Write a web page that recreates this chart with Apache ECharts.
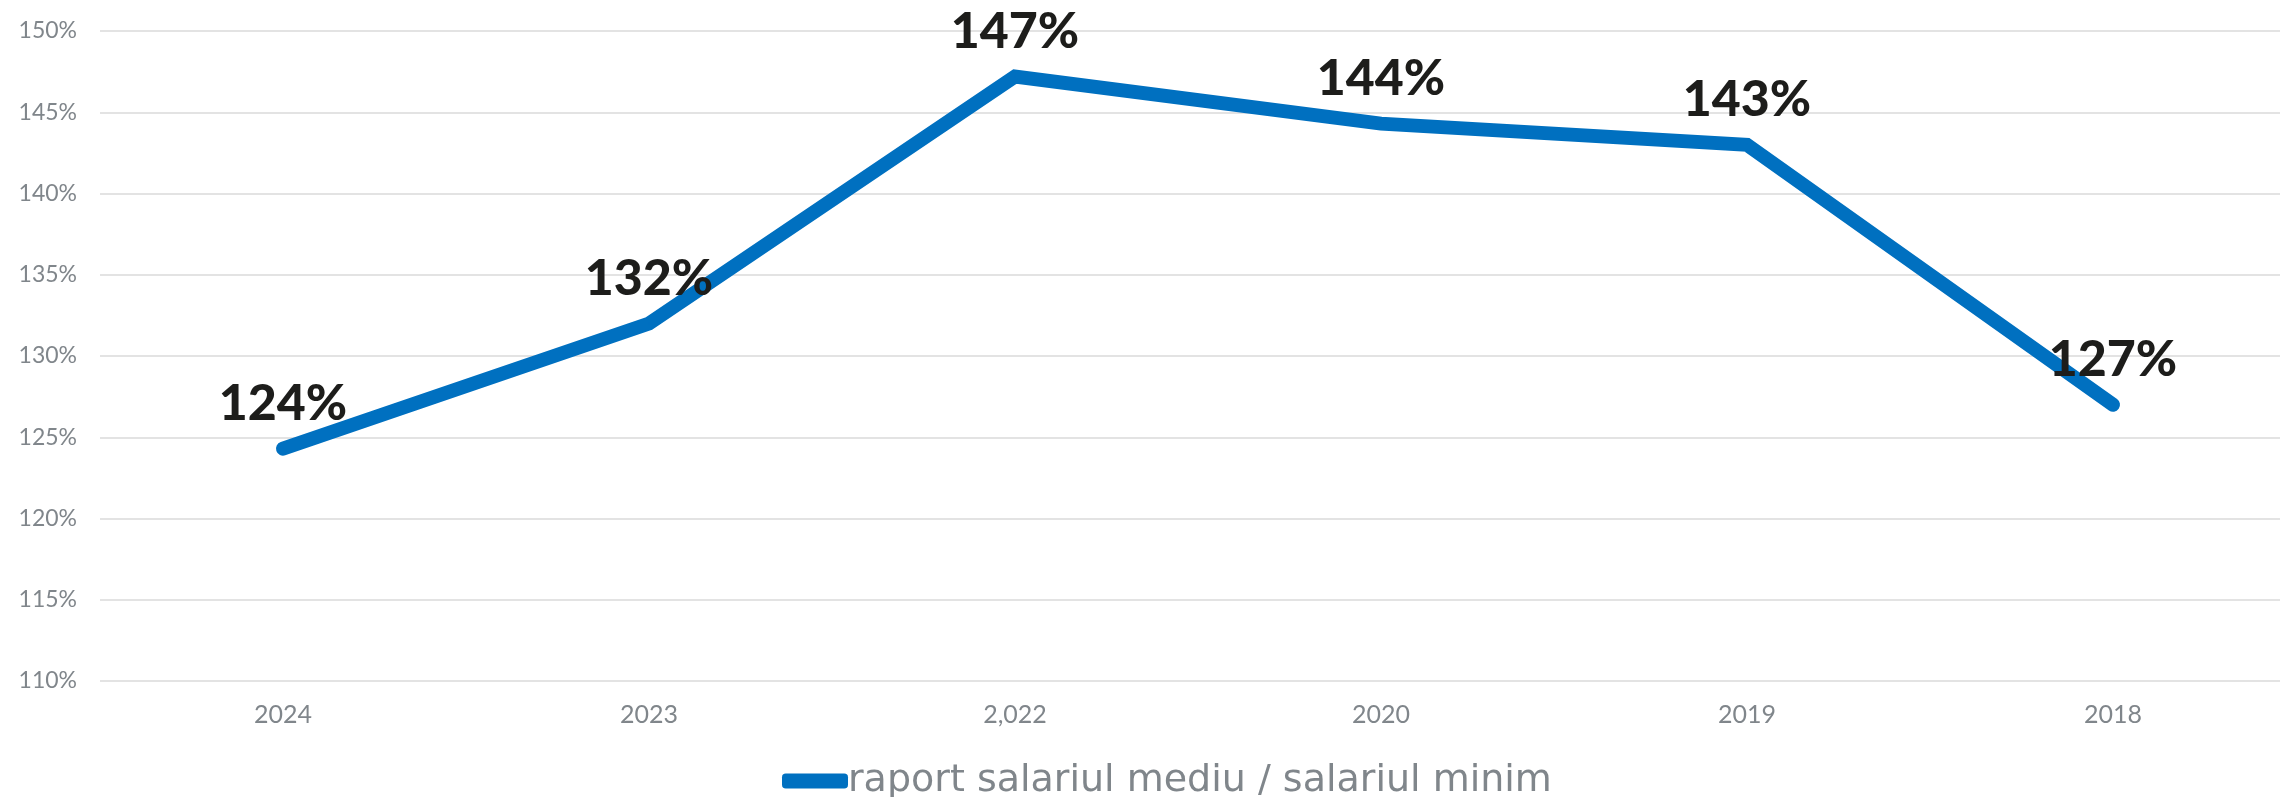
<!DOCTYPE html>
<html>
<head>
<meta charset="utf-8">
<script src="https://cdn.jsdelivr.net/npm/echarts@6/dist/echarts.min.js"></script>
<style>
  html, body { margin: 0; padding: 0; background: #fff; }
  #chart { width: 2280px; height: 797px; }
</style>
</head>
<body>
<div id="chart"></div>
<script>
// ani, in ordinea din grafic
const years = ["2024", "2023", "2,022", "2020", "2019", "2018"];
// raport salariul mediu / salariul minim (%)
const ratio = [124.3, 132.0, 147.2, 144.3, 143.0, 127.0];
const seriesName = "raport salariul mediu / salariul minim";
const yMin = 110, yMax = 150, yStep = 5;

const grey = "#80868b";

let myChart = echarts.init(document.getElementById("chart"));
let option = {
  animation: false,
  grid: {
    left: 100,
    top: 31,
    width: 2196,
    height: 650,
    outerBoundsMode: "none"
  },
  legend: {
    show: true,
    left: 777,
    top: 757,
    itemGap: 0,
    itemWidth: 66,
    itemHeight: 15,
    icon: "roundRect",
    textStyle: {
      fontFamily: "DejaVu Sans",
      fontSize: 38,
      color: grey,
      padding: [0, 0, 0, -5]
    },
    data: [seriesName]
  },
  xAxis: {
    type: "category",
    data: years,
    boundaryGap: true,
    axisLine: { show: false },
    axisTick: { show: false },
    axisLabel: {
      margin: 21,
      fontFamily: "Lato",
      fontSize: 25,
      color: grey
    }
  },
  yAxis: {
    type: "value",
    min: yMin,
    max: yMax,
    interval: yStep,
    axisLine: { show: false },
    axisTick: { show: false },
    axisLabel: {
      margin: 23,
      fontFamily: "Lato",
      fontSize: 23,
      color: grey,
      formatter: "{value}%"
    },
    splitLine: {
      lineStyle: { color: "#e3e3e3", width: 2 }
    }
  },
  series: [
    {
      name: seriesName,
      type: "line",
      data: ratio,
      showSymbol: true,
      symbol: "circle",
      symbolSize: 2,
      lineStyle: {
        color: "#0070c0",
        width: 14,
        cap: "round",
        join: "miter"
      },
      itemStyle: { color: "#0070c0" },
      label: {
        show: true,
        position: "top",
        distance: 19,
        fontFamily: "Lato",
        fontWeight: 900,
        fontSize: 50,
        color: "#1d1d1b",
        formatter: function (p) {
          return Math.round(p.value) + "%";
        }
      }
    }
  ]
};
myChart.setOption(option, true);
</script>
</body>
</html>
